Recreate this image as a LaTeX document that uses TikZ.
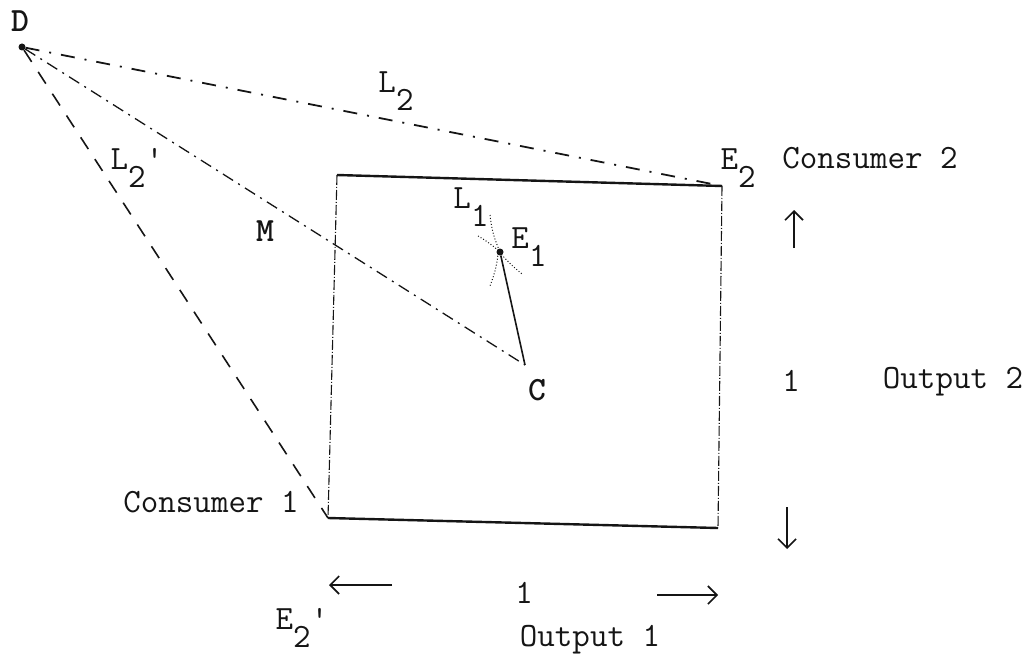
\documentclass[tikz,border=0pt]{standalone}
\usepackage{fontspec}
\usepackage{tikz}
\usetikzlibrary{arrows.meta,positioning,calc}
\definecolor{ink}{HTML}{151515}
\newcommand{\lowsub}[1]{\raisebox{-0.55em}{#1}}

\begin{document}
\begin{tikzpicture}[x=1pt,y=-1pt,
    lbl/.style={inner sep=0pt,text=ink,font=\fontsize{34}{38}\selectfont\ttfamily\addfontfeature{FakeBold=1.2}},
    bold/.style={lbl,font=\fontsize{34}{38}\selectfont\ttfamily\bfseries},
    rim/.style={ink,line width=2.4pt},
    side/.style={ink,line width=1.1pt,dash pattern=on 10pt off 2pt on 1pt off 2pt},
    budget/.style={ink,line width=1.8pt,dash pattern=on 14pt off 10pt on 2pt off 10pt},
    offer/.style={ink,line width=1.6pt,dash pattern=on 14pt off 12pt},
    ray/.style={ink,line width=1.3pt,dash pattern=on 12pt off 6pt on 2pt off 6pt},
    curve/.style={ink,line width=1pt,dotted},
    pointer/.style={ink,line width=1.6pt,-{Straight Barb[length=9pt,width=18pt]}},
    dot/.style={circle,fill=ink,inner sep=0pt,minimum size=7pt}]
  \useasboundingbox (0,0) rectangle (1035,666);

  \node[dot] (D) at (22,47) {};
  \node[dot] (E1) at (500,252) {};
  \coordinate (C) at (525,365);
  \coordinate (tl) at (337,175);
  \coordinate (tr) at (722,186);
  \coordinate (br) at (718,528);
  \coordinate (bl) at (328,518);

  \draw[rim] (tl) -- (tr);
  \draw[rim] (bl) -- (br);
  \draw[side] (tl) -- (bl);
  \draw[side] (tr) -- (br);

  \draw[budget] (D) -- (tr);
  \draw[offer] (D) -- (bl);
  \draw[ray] (D) -- (C);
  \draw[ink,line width=1.6pt] (E1) -- (C);
  \draw[curve] (490,215) to[bend right=8] (E1) to[bend left=8] (490,286);
  \draw[curve] (478,236) to[bend left=5] (E1) to[bend right=5] (522,274);

  \node[bold] (dlab) at (20,21) {D};
  \node[bold] (mlab) at (265,231) {M};
  \node[bold] (clab) at (537,390) {C};
  \node[lbl] (l2) at (396,91) {L\lowsub{2}};
  \node[lbl] (l2p) at (137,168) {L\lowsub{2}'};
  \node[lbl] (l1) at (471,207) {L\lowsub{1}};
  \node[lbl] (e1) at (529,247) {E\lowsub{1}};
  \node[lbl] (e2) at (738,168) {E\lowsub{2}};
  \node[lbl] (cons2) at (870,158) {Consumer 2};
  \node[lbl] (cons1) at (211,502) {Consumer 1};
  \node[lbl] (e2p) at (302,628) {E\lowsub{2}'};
  \node[lbl] (one2) at (791,381) {1};
  \node[lbl] (out2) at (953,382) {Output 2};
  \node[lbl] (one1) at (524,593) {1};
  \node[lbl] (out1) at (590,640) {Output 1};

  \coordinate (upa) at (794,248);
  \coordinate (upb) at (794,210);
  \coordinate (dna) at (787,507);
  \coordinate (dnb) at (787,549);
  \coordinate (lfa) at (392,585);
  \coordinate (lfb) at (329,585);
  \coordinate (rta) at (657,595);
  \coordinate (rtb) at (718,595);
  \draw[pointer] (upa) -- (upb);
  \draw[pointer] (dna) -- (dnb);
  \draw[pointer] (lfa) -- (lfb);
  \draw[pointer] (rta) -- (rtb);
\end{tikzpicture}
\end{document}
